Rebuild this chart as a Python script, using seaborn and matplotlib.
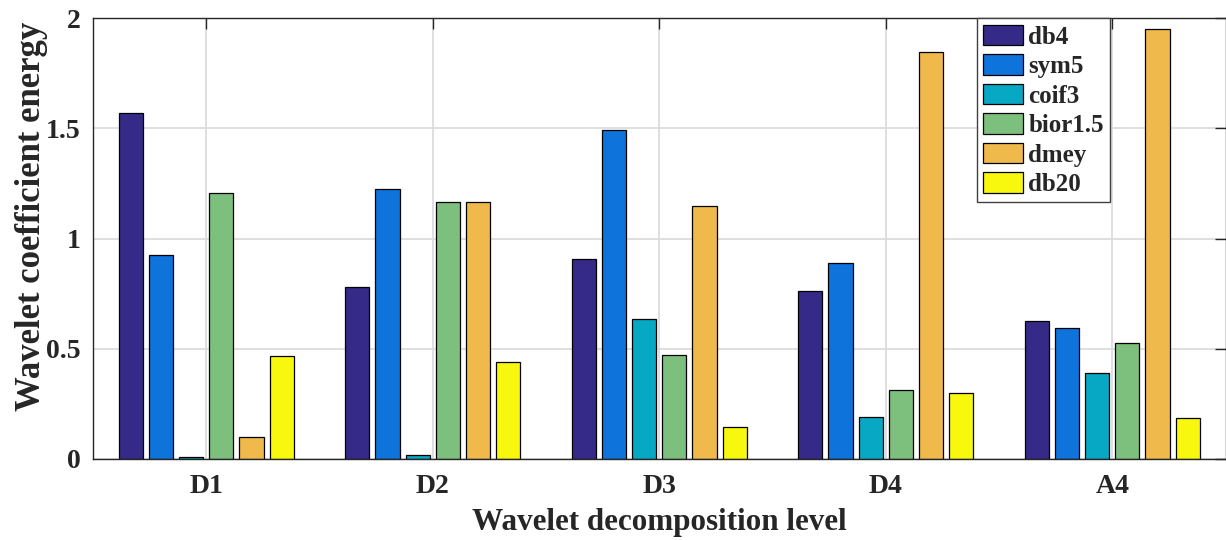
import numpy as np
import pandas as pd
import matplotlib
matplotlib.use("Agg")
import matplotlib.pyplot as plt
import seaborn as sns

# Wavelet coefficient energy per decomposition level for each wavelet
levels = ["D1", "D2", "D3", "D4", "A4"]
wavelets = ["db4", "sym5", "coif3", "bior1.5", "dmey", "db20"]
db4 = [1.570, 0.779, 0.906, 0.762, 0.626]
sym5 = [0.925, 1.226, 1.491, 0.888, 0.594]
coif3 = [0.008, 0.017, 0.635, 0.190, 0.392]
bior15 = [1.205, 1.167, 0.471, 0.314, 0.527]
dmey = [0.099, 1.165, 1.149, 1.849, 1.950]
db20 = [0.467, 0.440, 0.145, 0.301, 0.185]
colors = ["#352A87", "#0F73DC", "#07A8C4", "#7DBF7C", "#F0B94B", "#F7F80E"]

series = [db4, sym5, coif3, bior15, dmey, db20]
df = pd.DataFrame({
    "level": np.tile(levels, len(wavelets)),
    "wavelet": np.repeat(wavelets, len(levels)),
    "energy": np.concatenate(series),
})

sns.set_style("white")
plt.rcParams["font.family"] = ["Liberation Serif", "DejaVu Serif"]
plt.rcParams["font.weight"] = "bold"

fig = plt.figure(figsize=(12.26, 5.40), dpi=100)
W, H = 1226, 540
left, right, top, bottom = 93, 1225.5, 18.3, 459
ax = fig.add_axes([left / W, 1 - bottom / H, (right - left) / W, (bottom - top) / H])

sns.barplot(data=df, x="level", y="energy", hue="wavelet", order=levels,
            hue_order=wavelets, palette=colors, width=0.8, gap=0.2,
            edgecolor="black", linewidth=0.9, saturation=1, ax=ax,
            errorbar=None)

ax.set_xlim(-0.5, 4.5)
ax.set_ylim(0, 2)
ax.set_yticks([0, 0.5, 1, 1.5, 2])
ax.set_yticklabels(["0", "0.5", "1", "1.5", "2"])
ax.set_axisbelow(True)
ax.grid(True, color="#dcdcdc", linewidth=1.3)

for s in ax.spines.values():
    s.set_visible(True)
    s.set_color("#262626")
    s.set_linewidth(1.0)

ax.tick_params(axis="both", direction="in", length=8, width=1.0, color="#262626",
               top=True, right=True, labelsize=20, labelcolor="#262626")
ax.tick_params(axis="x", pad=11)
ax.tick_params(axis="y", pad=9)
for lab in ax.get_xticklabels() + ax.get_yticklabels():
    lab.set_fontweight("bold")

ax.set_xlabel("Wavelet decomposition level", fontsize=22.4, fontweight="bold",
              color="#262626", labelpad=6)
ax.set_ylabel("Wavelet coefficient energy", fontsize=25, fontweight="bold",
              color="#262626")
ax.yaxis.set_label_coords(-0.040, 0.55)

handles, labels = ax.get_legend_handles_labels()
ax.legend(handles, labels, loc="upper left",
          bbox_to_anchor=((977 - left) / (right - left), 1.0),
          borderaxespad=0, prop={"weight": "bold", "size": 18},
          handlelength=1.6, handleheight=0.9, handletextpad=0.2,
          labelspacing=0.22, borderpad=0.25, frameon=True, fancybox=False,
          edgecolor="#404040", framealpha=1)
ax.get_legend().get_frame().set_linewidth(1.0)

fig.savefig("out.png", dpi=100)
